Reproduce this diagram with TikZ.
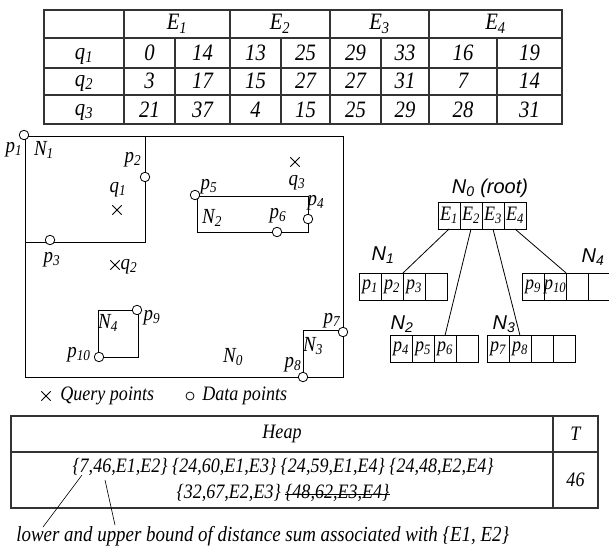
\documentclass[tikz,border=0pt]{standalone}
\usepackage{fontspec}
\setmainfont{Liberation Serif}[FakeStretch=0.88]
\setsansfont{Liberation Sans}
\usetikzlibrary{positioning,shapes.misc}

\newcommand{\sbs}[2]{#1\textsubscript{#2}}

\begin{document}
\begin{tikzpicture}[x=1pt,y=-1pt,
  line width=0.8pt,
  txt/.style={font=\itshape\fontsize{21.5}{23}\selectfont, inner sep=0pt},
  tab/.style={font=\itshape\fontsize{23.5}{25}\selectfont, inner sep=0pt},
  hp/.style={font=\itshape\fontsize{20.5}{22}\selectfont, inner sep=0pt},
  cell/.style={draw, minimum width=22pt, minimum height=27pt, inner sep=0pt, outer sep=0pt, font=\itshape\fontsize{20.5}{20}\selectfont},
  tlabel/.style={font=\sffamily\itshape\fontsize{20}{22}\selectfont, inner sep=0pt},
  dpt/.style={draw, circle, fill=white, minimum size=9.5pt, inner sep=0pt},
  qpt/.style={draw, cross out, minimum size=8.5pt, inner sep=0pt},
  grid/.style={line width=1.1pt, black!80}
]
\useasboundingbox (0,0) rectangle (609,545);

% distance table
\draw[grid] (44,10) rectangle (562,124);
\foreach \y in {38,68,95} \draw[grid] (44,\y) -- (562,\y);
\foreach \x in {124,230,330,429} \draw[grid] (\x,10) -- (\x,124);
\foreach \x in {175,281,381,497} \draw[grid] (\x,38) -- (\x,124);
\foreach \i/\x in {1/177,2/280,3/379.5,4/495.5}
  \node[tab] (hE\i) at (\x,24) {\sbs{E}{\i}};
\foreach \i/\y in {1/56,2/83,3/112}
  \node[tab] (hq\i) at (84,\y) {\sbs{q}{\i}};
\foreach \r/\y/\vals in {1/53/{0,14,13,25,29,33,16,19},2/81/{3,17,15,27,27,31,7,14},3/110/{21,37,4,15,25,29,28,31}}
  \foreach \v [count=\c] in \vals {
    \pgfmathsetmacro\xx{{149.5,202.5,255.5,305.5,355.5,405,463,529.5}[\c-1]}
    \node[tab] (v\r\c) at (\xx,\y) {\v};
  }

% MBRs
\draw (25,136) rectangle (343,377);
\draw (145,136) -- (145,242) -- (25,242);
\draw (197,196) rectangle (308,232);
\draw (98,310) rectangle (138,357);
\draw (303,330) rectangle (343,377);

% data points
\foreach \n/\x/\y in {1/24/135,2/145/177,3/50/240,4/308/219,5/195/195,6/277/232,7/343/332,8/303/377,9/137/310,10/99/357}
  \node[dpt] (p\n) at (\x,\y) {};
\foreach \n/\x/\y in {1/14/150,2/133/160,3/52/260,4/316/203,5/209/187,6/278/216,7/332/321,8/293/365,9/152/318,10/79/355}
  \node[txt] (lp\n) at (\x,\y) {\sbs{p}{\n}};
\foreach \n/\x/\y in {0/233/357,1/44/150,2/212/218,3/313/346,4/108/323}
  \node[txt] (lN\n) at (\x,\y) {\sbs{N}{\n}};

% query points
\node[qpt] (q1) at (117,210) {};
\node[qpt] (q2) at (115,265) {};
\node[qpt] (q3) at (295,162) {};
\node[txt] (lq1) at (118,190) {\sbs{q}{1}};
\node[txt] (lq2) at (129,267) {\sbs{q}{2}};
\node[txt] (lq3) at (297,183) {\sbs{q}{3}};

% legend
\node[qpt] (legq) at (46,396) {};
\node[hp, anchor=west] (legqt) at (60,396) {Query points};
\node[dpt, minimum size=8pt] (legd) at (190,396) {};
\node[hp, anchor=west] (legdt) at (202,396) {Data points};

% R-tree
\node[tlabel] (root) at (490,188) {\sbs{N}{0} (root)};
\node[cell] (e1) at (449,215.5) {\sbs{E}{1}};
\node[cell, right=0pt of e1] (e2) {\sbs{E}{2}};
\node[cell, right=0pt of e2] (e3) {\sbs{E}{3}};
\node[cell, right=0pt of e3] (e4) {\sbs{E}{4}};

\node[cell] (n1a) at (370,286.5) {\sbs{p}{1}};
\node[cell, right=0pt of n1a] (n1b) {\sbs{p}{2}};
\node[cell, right=0pt of n1b] (n1c) {\sbs{p}{3}};
\node[cell, right=0pt of n1c] (n1d) {};
\node[tlabel] (tN1) at (383,255) {\sbs{N}{1}};

\node[cell] (n4a) at (533,286.5) {\sbs{p}{9}};
\node[cell, right=0pt of n4a] (n4b) {\sbs{p}{10}};
\node[cell, right=0pt of n4b] (n4c) {};
\node[cell, right=0pt of n4c] (n4d) {};
\node[tlabel] (tN4) at (593,257) {\sbs{N}{4}};

\node[cell] (n2a) at (401,349) {\sbs{p}{4}};
\node[cell, right=0pt of n2a] (n2b) {\sbs{p}{5}};
\node[cell, right=0pt of n2b] (n2c) {\sbs{p}{6}};
\node[cell, right=0pt of n2c] (n2d) {};
\node[tlabel] (tN2) at (402,324) {\sbs{N}{2}};

\node[cell] (n3a) at (498,349) {\sbs{p}{7}};
\node[cell, right=0pt of n3a] (n3b) {\sbs{p}{8}};
\node[cell, right=0pt of n3b] (n3c) {};
\node[cell, right=0pt of n3c] (n3d) {};
\node[tlabel] (tN3) at (504,324) {\sbs{N}{3}};

\draw (e1.south) -- (n1c.north west);
\draw (e2.south) -- (n2c.north);
\draw (e3.south) -- (n3b.north);
\draw (e4.south) -- (n4c.north west);

% heap
\draw[grid] (11,416) rectangle (598,508);
\draw[grid] (11,452) -- (598,452);
\draw[grid] (553,416) -- (553,508);
\node[hp] (heap) at (282,434) {Heap};
\node[hp] (tcol) at (575.5,434) {T};
\node[hp] (tval) at (575.5,480) {46};
\node[hp] (row1) at (283,467) {\{7,46,E1,E2\} \{24,60,E1,E3\} \{24,59,E1,E4\} \{24,48,E2,E4\}};
\node[hp] (row2) at (283,493) {\{32,67,E2,E3\} \phantom{\{48,62,E3,E4\}}};
\node[hp, anchor=east] (gone) at (row2.east) {\{48,62,E3,E4\}};
\draw[line width=0.6pt] ([yshift=-1pt]gone.west) -- ([yshift=-1pt]gone.east);

% bounds note
\coordinate (c7) at (82,475);
\coordinate (c46) at (105,480);
\node[txt, anchor=west] (note) at (16,536) {lower and upper bound of distance sum associated with \{E1, E2\}};
\coordinate (n7) at (43,527);
\coordinate (n46) at (115,525);
\draw[line width=0.6pt] (c7) -- (n7);
\draw[line width=0.6pt] (c46) -- (n46);
\end{tikzpicture}
\end{document}
